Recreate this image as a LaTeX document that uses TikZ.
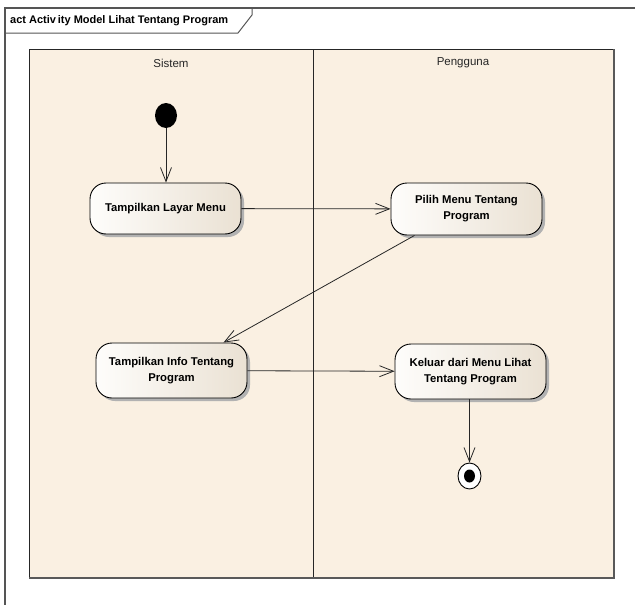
\documentclass[tikz,border=0pt]{standalone}
\usepackage{fontspec}
\setmainfont{Liberation Sans}
\usetikzlibrary{arrows.meta,shadows,calc,shapes.geometric}
\definecolor{lanefill}{HTML}{FAF0E2}
\definecolor{nodeR}{HTML}{EAE1D3}
\definecolor{nodeL}{HTML}{FEFDFB}
\definecolor{framec}{HTML}{555555}
\tikzset{
  act/.style={rectangle, rounded corners=16pt, draw=black, line width=0.9pt,
    left color=nodeL, right color=nodeR, minimum width=151pt,
    align=center, font=\bfseries\fontsize{11.3}{16}\selectfont,
    drop shadow={shadow xshift=3pt, shadow yshift=-3pt, fill=black!30, opacity=1}},
  flow/.style={line width=0.8pt, draw=black!85, -{Straight Barb[length=14pt,width=11pt,line width=0.8pt]}},
  lanelbl/.style={font=\fontsize{11.5}{13}\selectfont, text=black!85}
}
\begin{document}
\begin{tikzpicture}[x=1pt,y=-1pt]
\useasboundingbox (0,0) rectangle (635,605);
\fill[white] (0,0) rectangle (635,605);
% outer frame
\draw[framec, line width=1.2pt] (5,610) -- (5,8) -- (640,8);
\draw[framec, line width=1pt] (5,33) -- (238,33) -- (252,15) -- (252,8);
\node[anchor=west, font=\bfseries\fontsize{11}{13}\selectfont, inner sep=0pt] (title) at (10,21) {act Activ\,ity Model Lihat Tentang Program};
% lanes
\fill[lanefill] (29,49) rectangle (614,578);
\draw[black!85, line width=0.8pt] (29,578) -- (29,49) -- (614,49);
\draw[black!85, line width=0.8pt] (313,49) -- (313,578);
\draw[black!65, line width=1.6pt] (614,49) -- (614,578) -- (29,578);
\node[lanelbl] (sistem) at (171,63) {Sistem};
\node[lanelbl] (pengguna) at (463,63) {Pengguna};
% nodes
\node[ellipse, fill=black, minimum width=22pt, minimum height=25pt, inner sep=0pt] (init) at (166,115.5) {};
\node[act, minimum height=51pt] (layar) at (165.5,208.5) {Tampilkan Layar Menu};
\node[act, minimum height=52pt] (pilih) at (466.5,209) {Pilih Menu Tentang\\Program};
\node[act, minimum height=55pt] (info) at (171.5,370.5) {Tampilkan Info Tentang\\Program};
\node[act, minimum height=55pt] (keluar) at (470.5,371.5) {Keluar dari Menu Lihat\\Tentang Program};
\node[ellipse, draw=black, fill=white, line width=0.9pt, minimum width=23pt, minimum height=26pt, inner sep=0pt] (final) at (469.5,476) {};
\node[ellipse, fill=black, minimum width=11pt, minimum height=13pt, inner sep=0pt] (finaldot) at (final) {};
% flows
\draw[flow] (init) -- (init |- layar.north);
\draw[flow] (layar) -- (pilih);
\draw[flow] ($(pilih.south)+(-52,0)$) -- ($(info.north)+(52,0)$);
\draw[flow] (info) -- (keluar);
\draw[flow] (keluar.south -| final) -- (final);
\end{tikzpicture}
\end{document}
